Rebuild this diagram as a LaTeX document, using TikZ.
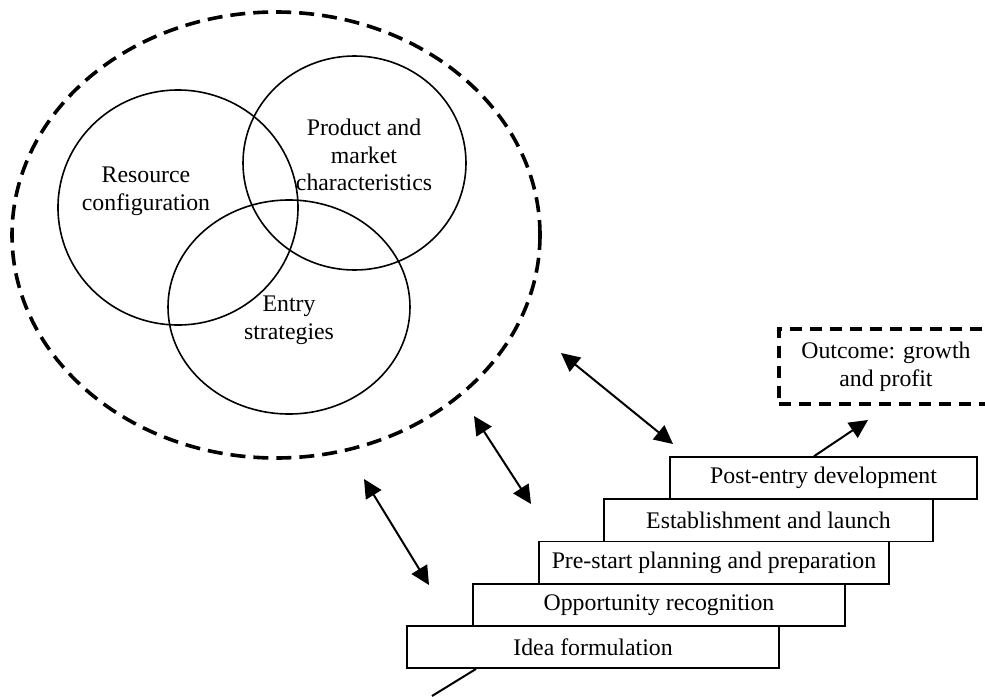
\documentclass[tikz,border=0pt]{standalone}
\usepackage{fontspec}
\setmainfont{Liberation Serif}
\usetikzlibrary{arrows.meta,shapes.geometric}
\newcommand\mytext{\fontsize{11.9pt}{13.8pt}\selectfont}
\begin{document}
\begin{tikzpicture}[x=0.5pt,y=-0.5pt,
  venn/.style={draw, ellipse, line width=0.8pt, inner sep=0pt},
  outer/.style={draw, ellipse, line width=1.8pt, dash pattern=on 7.5pt off 4pt, inner sep=0pt},
  stepbox/.style={draw, rectangle, line width=0.85pt, inner sep=0pt, minimum height=21.1pt, font=\mytext},
  outbox/.style={draw, rectangle, line width=1.8pt, dash pattern=on 6pt off 4pt, inner sep=0pt, align=center, font=\mytext},
  txt/.style={align=center, inner sep=0pt, font=\mytext},
  dbl/.style={{Triangle[length=9.3pt,width=9pt]}-{Triangle[length=9.3pt,width=9pt]}, line width=1pt},
  sgl/.style={-{Triangle[length=9.3pt,width=9pt]}, line width=1pt},
  plain/.style={line width=1pt}
]
\clip (0,0) rectangle (985,696);
\fill[white] (0,0) rectangle (985,696);

% outer dashed ellipse and Venn circles
\node[outer, minimum width=264pt, minimum height=223pt] (big) at (276,235) {};
\node[venn, minimum width=120pt, minimum height=117.5pt] (res) at (178,207.5) {};
\node[venn, minimum width=111.5pt, minimum height=107pt] (prod) at (354.5,163) {};
\node[venn, minimum width=121pt, minimum height=107pt] (entry) at (289,307) {};

\node[txt] (restxt) at (146,191) {Resource\\configuration};
\node[txt] (prodtxt) at (364,155) {Product and\\market\\characteristics};
\node[txt] (entrytxt) at (289,320.5) {Entry\\strategies};

% staircase
\node[stepbox, minimum width=186pt] (idea) at (593,647) {Idea formulation};
\node[stepbox, minimum width=186pt] (opp) at (659,604.8) {Opportunity recognition};
\node[stepbox, minimum width=175pt] (pre) at (714,562.6) {Pre-start planning and preparation};
\node[stepbox, minimum width=164.5pt] (est) at (768.5,520.4) {Establishment and launch};
\node[stepbox, minimum width=153.5pt] (post) at (823.5,478.2) {Post-entry development};

% outcome
\node[outbox, minimum width=107pt, minimum height=37.5pt] (out) at (886,366.5) {Outcome: growth\\and profit};

% free ends of connectors
\coordinate (a1s) at (561,353);
\coordinate (a1e) at (673,444);
\coordinate (a2s) at (474,416);
\coordinate (a2e) at (531,504);
\coordinate (a3s) at (364,479);
\coordinate (a3e) at (429,585);
\coordinate (outtip) at (868,420);
\coordinate (tail) at (432,696);

\draw[dbl] (a1s) -- (a1e);
\draw[dbl] (a2s) -- (a2e);
\draw[dbl] (a3s) -- (a3e);
\draw[sgl] ([xshift=-4.75pt]post.north) -- (outtip);
\draw[plain] ([xshift=-58.5pt]idea.south) -- (tail);
\end{tikzpicture}
\end{document}
